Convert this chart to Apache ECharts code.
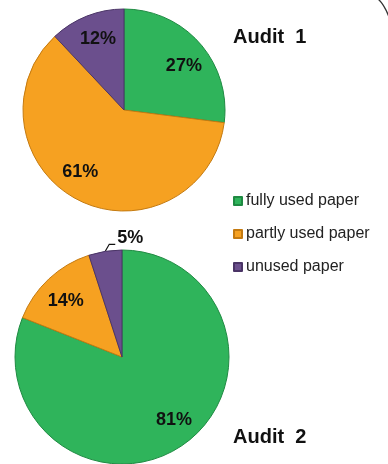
<!DOCTYPE html>
<html>
<head>
<meta charset="utf-8">
<script src="https://cdn.jsdelivr.net/npm/echarts@6/dist/echarts.min.js"></script>
<style>html,body{margin:0;padding:0;background:#fff;}#c{width:388px;height:464px;}</style>
</head>
<body>
<div id="c"></div>
<script>
const categories = ['fully used paper', 'partly used paper', 'unused paper'];
const audit1 = [27, 61, 12];
const audit2 = [81, 14, 5];
const titles = ['Audit  1', 'Audit  2'];
const colors = ['#2fb45b', '#f6a121', '#6b4f8d'];
const borders = ['#1f8a42', '#c47a10', '#4a3466'];

const chart = echarts.init(document.getElementById('c'), null, {renderer: 'canvas'});
const FONT = 'Liberation Sans, Arial, sans-serif';
const labelFont = {fontFamily: FONT, fontWeight: 'bold', fontSize: 18, color: '#111'};
// small label nudges to mimic the original spreadsheet label placement
const nudge1 = [[1, 8], [-8, -8], [3, 2]];
const nudge2 = [[5, -6], [1, 5], [0, 0]];

function basePie(values, center, r, outsideIdx) {
  return {
    type: 'pie', center: center, radius: [0, r], startAngle: 90, clockwise: true,
    silent: true, animation: false,
    itemStyle: {borderWidth: 1},
    label: {show: false},
    labelLine: {show: false},
    labelLayout: function (p) {
      if (p.dataIndex === outsideIdx && p.labelLinePoints) {
        const a = p.labelLinePoints[0];
        const b = [a[0] + 4, a[1] - 7];
        const c = [a[0] + 10, a[1] - 7];
        return {x: c[0] + 2, y: c[1] - 6, align: 'left', verticalAlign: 'middle', labelLinePoints: [a, b, c]};
      }
    },
    data: values.map((v, i) => ({
      name: categories[i], value: v,
      itemStyle: {color: colors[i], borderColor: borders[i]},
      label: i === outsideIdx ? Object.assign({show: true, position: 'outside', formatter: '{c}%'}, labelFont) : {show: false},
      labelLine: i === outsideIdx ? {show: true, length: 6, length2: 5, lineStyle: {color: '#111', width: 1.2}} : {show: false}
    }))
  };
}
function labelRing(values, center, r0, r, skipIdx, nudge) {
  return {
    type: 'pie', center: center, radius: [r0, r], startAngle: 90, clockwise: true,
    silent: true, animation: false,
    itemStyle: {color: 'rgba(0,0,0,0)', borderWidth: 0},
    label: Object.assign({show: true, position: 'inside', formatter: '{c}%'}, labelFont),
    labelLine: {show: false},
    data: values.map((v, i) => ({name: categories[i], value: v, label: {show: i !== skipIdx, offset: nudge[i]}}))
  };
}

chart.setOption({
  animation: false,
  color: colors,
  title: [
    {text: titles[0], left: 228, top: 22, textStyle: {fontFamily: FONT, fontWeight: 'bold', fontSize: 20, color: '#111'}},
    {text: titles[1], left: 228, top: 422, textStyle: {fontFamily: FONT, fontWeight: 'bold', fontSize: 20, color: '#111'}}
  ],
  legend: {
    orient: 'vertical', left: 228, top: 188, itemWidth: 8, itemHeight: 8, itemGap: 17,
    icon: 'rect', selectedMode: false,
    data: categories,
    textStyle: {fontFamily: FONT, fontSize: 16, color: '#222', lineHeight: 16, padding: [0, 0, 0, -1]}
  },
  graphic: [{
    type: 'bezierCurve', silent: true,
    shape: {x1: 378, y1: -1, x2: 389, y2: 17, cpx1: 384, cpy1: 4},
    style: {stroke: '#333', lineWidth: 1.3, fill: null}
  }],
  series: [
    basePie(audit1, [124, 110], 101, -1),
    labelRing(audit1, [124, 110], 50, 101, -1, nudge1),
    basePie(audit2, [122, 357], 107, 2),
    labelRing(audit2, [122, 357], 54, 107, 2, nudge2)
  ]
});
</script>
</body>
</html>
